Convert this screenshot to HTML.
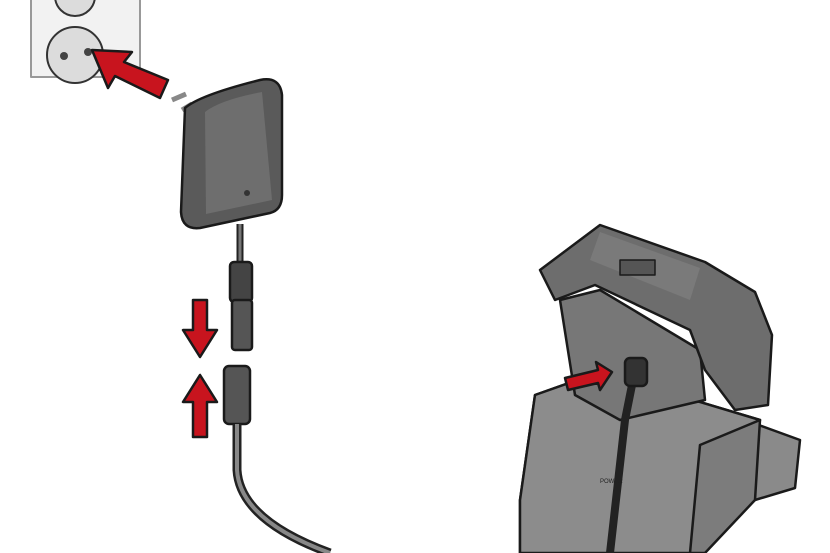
<!DOCTYPE html>
<html><head><style>html,body{margin:0;padding:0;background:#fff}svg{display:block}</style></head>
<body>
<svg width="830" height="553" viewBox="0 0 830 553" xmlns="http://www.w3.org/2000/svg" stroke="#1a1a1a" stroke-width="2.5" stroke-linejoin="round">
<!-- outlet -->
<rect x="31" y="-5" width="109" height="82" fill="#f2f2f2" stroke="#999" stroke-width="2"/>
<circle cx="75" cy="55" r="28" fill="#dcdcdc" stroke="#333" stroke-width="2"/>
<circle cx="75" cy="-4" r="20" fill="#dcdcdc" stroke="#333" stroke-width="2"/>
<circle cx="64" cy="56" r="4" fill="#444" stroke="none"/>
<circle cx="88" cy="52" r="4" fill="#444" stroke="none"/>
<!-- red arrow to outlet -->
<polygon points="168,80 160,98 115,76 108,88 92,50 132,52 124,62" fill="#c8141e"/>
<!-- prongs -->
<line x1="172" y1="100" x2="186" y2="94" stroke-width="5" stroke="#888"/>
<line x1="182" y1="110" x2="192" y2="104" stroke-width="5" stroke="#888"/>
<!-- adapter -->
<path d="M185,108 Q200,95 260,80 Q280,76 282,95 L282,195 Q282,210 270,213 L200,228 Q182,230 181,212 Z" fill="#5a5a5a"/>
<path d="M205,112 Q220,100 262,92 L272,200 L206,214 Z" fill="#6e6e6e" stroke="none"/>
<circle cx="247" cy="193" r="3" fill="#333" stroke="none"/>
<!-- cable top -->
<path d="M240,224 L240,300" stroke="#222" stroke-width="7" fill="none"/>
<path d="M240,224 L240,300" stroke="#777" stroke-width="3" fill="none"/>
<rect x="230" y="262" width="22" height="40" rx="4" fill="#444"/>
<rect x="232" y="300" width="20" height="50" rx="3" fill="#555"/>
<!-- red arrows -->
<polygon points="193,300 207,300 207,330 217,330 200,357 183,330 193,330" fill="#c8141e"/>
<polygon points="193,437 207,437 207,402 217,402 200,375 183,402 193,402" fill="#c8141e"/>
<!-- lower connector -->
<rect x="224" y="366" width="26" height="58" rx="5" fill="#555"/>
<path d="M237,424 L237,470 Q240,520 330,553" stroke="#222" stroke-width="9" fill="none"/>
<path d="M237,424 L237,470 Q240,520 330,553" stroke="#888" stroke-width="4" fill="none"/>
<!-- station base right extension -->
<polygon points="745,420 800,440 795,488 755,500 720,480" fill="#8a8a8a"/>
<!-- station body -->
<polygon points="535,395 600,372 760,420 755,500 705,553 520,553 520,500" fill="#7c7c7c"/>
<polygon points="535,395 600,372 760,420 700,445 690,553 520,553 520,500" fill="#8c8c8c"/>
<!-- interior -->
<polygon points="560,300 600,290 700,350 705,400 620,420 575,395" fill="#777"/>
<!-- lid -->
<polygon points="540,270 600,225 705,262 755,292 772,335 768,405 735,410 705,370 690,330 595,285 555,300" fill="#6d6d6d"/>
<polygon points="600,232 700,268 690,300 590,260" fill="#7a7a7a" stroke="none"/>
<rect x="620" y="260" width="35" height="15" fill="#555" stroke-width="1.5"/>
<!-- cable inside -->
<path d="M635,370 L625,420 L610,553" stroke="#222" stroke-width="8" fill="none"/>
<rect x="625" y="358" width="22" height="28" rx="5" fill="#333"/>
<polygon points="565,378 598,370 596,362 612,372 600,390 598,383 568,390" fill="#c8141e"/>
<text x="600" y="483" font-family="Liberation Sans,sans-serif" font-size="6" stroke="none" fill="#222">POWER</text>
</svg>
</body></html>
